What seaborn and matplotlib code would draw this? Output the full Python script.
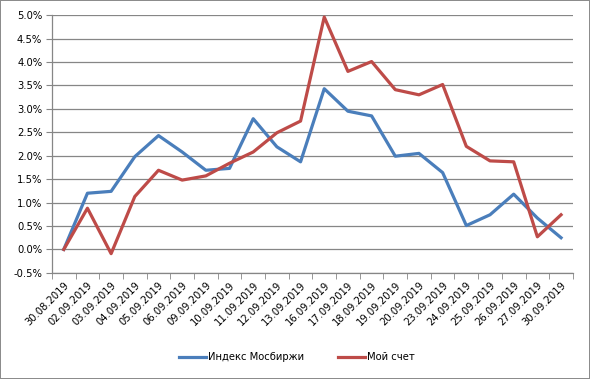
import pandas as pd
import numpy as np
import matplotlib
matplotlib.use("Agg")
import matplotlib.pyplot as plt
import seaborn as sns
from matplotlib.ticker import FuncFormatter, MultipleLocator

dates = ["30.08.2019", "02.09.2019", "03.09.2019", "04.09.2019", "05.09.2019",
         "06.09.2019", "09.09.2019", "10.09.2019", "11.09.2019", "12.09.2019",
         "13.09.2019", "16.09.2019", "17.09.2019", "18.09.2019", "19.09.2019",
         "20.09.2019", "23.09.2019", "24.09.2019", "25.09.2019", "26.09.2019",
         "27.09.2019", "30.09.2019"]
moex = [0.0, 1.20, 1.24, 1.98, 2.43, 2.08, 1.69, 1.73, 2.79, 2.19, 1.87,
        3.43, 2.95, 2.85, 1.99, 2.05, 1.64, 0.51, 0.74, 1.18, 0.67, 0.25]
mine = [0.0, 0.88, -0.09, 1.13, 1.69, 1.48, 1.57, 1.84, 2.08, 2.49, 2.74,
        4.96, 3.80, 4.01, 3.41, 3.30, 3.52, 2.20, 1.89, 1.87, 0.27, 0.74]
series_names = ["Индекс Мосбиржи", "Мой счет"]

data = pd.DataFrame({
    "idx": list(range(len(dates))) * 2,
    "value": moex + mine,
    "series": [series_names[0]] * len(dates) + [series_names[1]] * len(dates),
})

plt.rcParams['font.family'] = ['DejaVu Sans']
font_size = 7.2
grid_col = "#868686"

fig = plt.figure(figsize=(5.9, 3.79), dpi=100, linewidth=1.2, edgecolor="#8c8c8c")
ax1 = fig.add_axes([0.088, 0.280, 0.883, 0.680])

sns.lineplot(data=data, x="idx", y="value", hue="series",
             palette={series_names[0]: "#4a7ebb", series_names[1]: "#be4b48"},
             linewidth=2.3, ax=ax1, legend=False)

ax1.set_xlim(-0.5, len(dates) - 0.5)
ax1.set_ylim(-0.5, 5.0)
ax1.yaxis.set_major_locator(MultipleLocator(0.5))
ax1.yaxis.set_major_formatter(FuncFormatter(lambda v, p: f"{v:.1f}%"))
ax1.grid(True, axis="y", color=grid_col, linewidth=0.9)
ax1.set_axisbelow(True)

ax1.set_xticks(range(len(dates)))
ax1.set_xticklabels(dates, rotation=45, ha="right", va="top", rotation_mode="anchor")
ax1.set_xticks(np.arange(-0.5, len(dates), 1.0), minor=True)
ax1.tick_params(axis="x", which="major", length=0, pad=5, labelsize=font_size)
ax1.tick_params(axis="x", which="minor", length=4, color=grid_col, direction="out")
ax1.tick_params(axis="y", which="major", length=4, color=grid_col, labelsize=font_size, pad=3)

ax1.set_xlabel("")
ax1.set_ylabel("")
for s in ["top", "right"]:
    ax1.spines[s].set_visible(False)
for s in ["left", "bottom"]:
    ax1.spines[s].set_color(grid_col)
    ax1.spines[s].set_linewidth(0.9)

handles = [plt.Line2D([], [], color="#4a7ebb", lw=2.3),
           plt.Line2D([], [], color="#be4b48", lw=2.3)]
fig.legend(handles, series_names, loc="center", bbox_to_anchor=(0.503, 0.058),
           ncol=2, frameon=False, fontsize=font_size,
           handlelength=2.7, handletextpad=0.2, columnspacing=3.4)

fig.savefig("out.png", dpi=100)
